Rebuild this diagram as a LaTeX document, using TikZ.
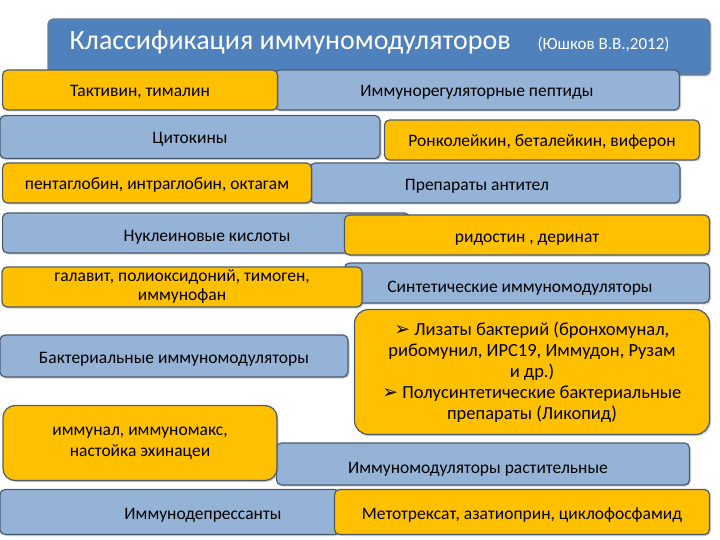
\documentclass[tikz,border=0pt]{standalone}
\usepackage{fontspec}
\setmainfont{Carlito}
\newfontfamily\djv{DejaVu Sans}
\usetikzlibrary{shadows}
\definecolor{yel}{HTML}{FFC000}
\definecolor{blu}{HTML}{95B3D7}
\definecolor{tit}{HTML}{4F81BD}
\definecolor{edge}{HTML}{4A5A70}
\newcommand{\bul}{{\djv ➢}\ }
\newcommand{\fs}{\fontsize{17.5}{21}\selectfont}
\begin{document}
\begin{tikzpicture}[x=1pt,y=-1pt,
  box/.style={draw=edge,line width=1.2pt,rounded corners=5pt,font=\fs,
    align=center,inner sep=0pt,drop shadow={opacity=0.35,shadow xshift=1.5pt,shadow yshift=-1.5pt}},
  one/.style={text height=14pt,text depth=0pt},
  bb/.style={box,fill=blu,one},
  yb/.style={box,fill=yel},
  lab/.style={font=\fs,one}]
\useasboundingbox[fill=white] (0,0) rectangle (720,540);
% title
\node[box,fill=tit,draw=edge!80,minimum width=662,minimum height=56] (title) at (379,47) {};
\node[text=white,font=\fontsize{28}{30}\selectfont,anchor=west] (t1) at (66,42) {Классификация иммуномодуляторов};
\node[text=white,font=\fontsize{17}{20}\selectfont,anchor=west] (t2) at (534,44) {(Юшков В.В.,2012)};
% blue boxes
\node[bb,minimum width=405,minimum height=40] (pep) at (477,90) {Иммунорегуляторные пептиды};
\node[bb,minimum width=380,minimum height=43] (cyt) at (190,137) {Цитокины};
\node[bb,minimum width=370,minimum height=40] (ab) at (495,183) {};
\node[lab] (abt) at (477,184) {Препараты антител};
\node[bb,minimum width=407,minimum height=40] (nuc) at (206,233) {};
\node[lab] (nuct) at (207,234) {Нуклеиновые кислоты};
\node[bb,minimum width=365,minimum height=40] (syn) at (527,283) {};
\node[lab] (synt) at (520,285) {Синтетические иммуномодуляторы};
\node[bb,minimum width=348,minimum height=42] (bac) at (174,356) {Бактериальные иммуномодуляторы};
\node[bb,minimum width=413,minimum height=42] (pl) at (483,464) {};
\node[lab] (plt) at (478,466) {Иммуномодуляторы растительные};
\node[bb,minimum width=340,minimum height=45] (dep) at (170,512) {};
\node[lab] (dept) at (203,512) {Иммунодепрессанты};
% yellow boxes
\node[yb,one,minimum width=275,minimum height=40] (tak) at (140,90) {Тактивин, тималин};
\node[yb,one,minimum width=315,minimum height=40] (ron) at (542,140) {Ронколейкин, беталейкин, виферон};
\node[yb,one,minimum width=309,minimum height=40] (pent) at (157,183) {пентаглобин, интраглобин, октагам};
\node[yb,one,minimum width=365,minimum height=40] (rid) at (527,235) {ридостин , деринат};
\node[yb,minimum width=360,minimum height=40,font=\fontsize{17.5}{19}\selectfont] (gal) at (182,287) {галавит, полиоксидоний, тимоген,\\иммунофан};
\node[yb,rounded corners=14pt,minimum width=355,minimum height=125,font=\fontsize{18.5}{21}\selectfont] (lys) at (532,372)
  {\bul Лизаты бактерий (бронхомунал,\\рибомунил, ИРС19, Иммудон, Рузам\\и др.)\\\bul Полусинтетические бактериальные\\препараты (Ликопид)};
\node[yb,rounded corners=12pt,minimum width=274,minimum height=75,font=\fontsize{17.5}{21}\selectfont] (imm) at (140,443) {иммунал, иммуномакс,\\настойка эхинацеи};
\node[yb,one,minimum width=375,minimum height=45] (met) at (522,512) {Метотрексат, азатиоприн, циклофосфамид};
\end{tikzpicture}
\end{document}
